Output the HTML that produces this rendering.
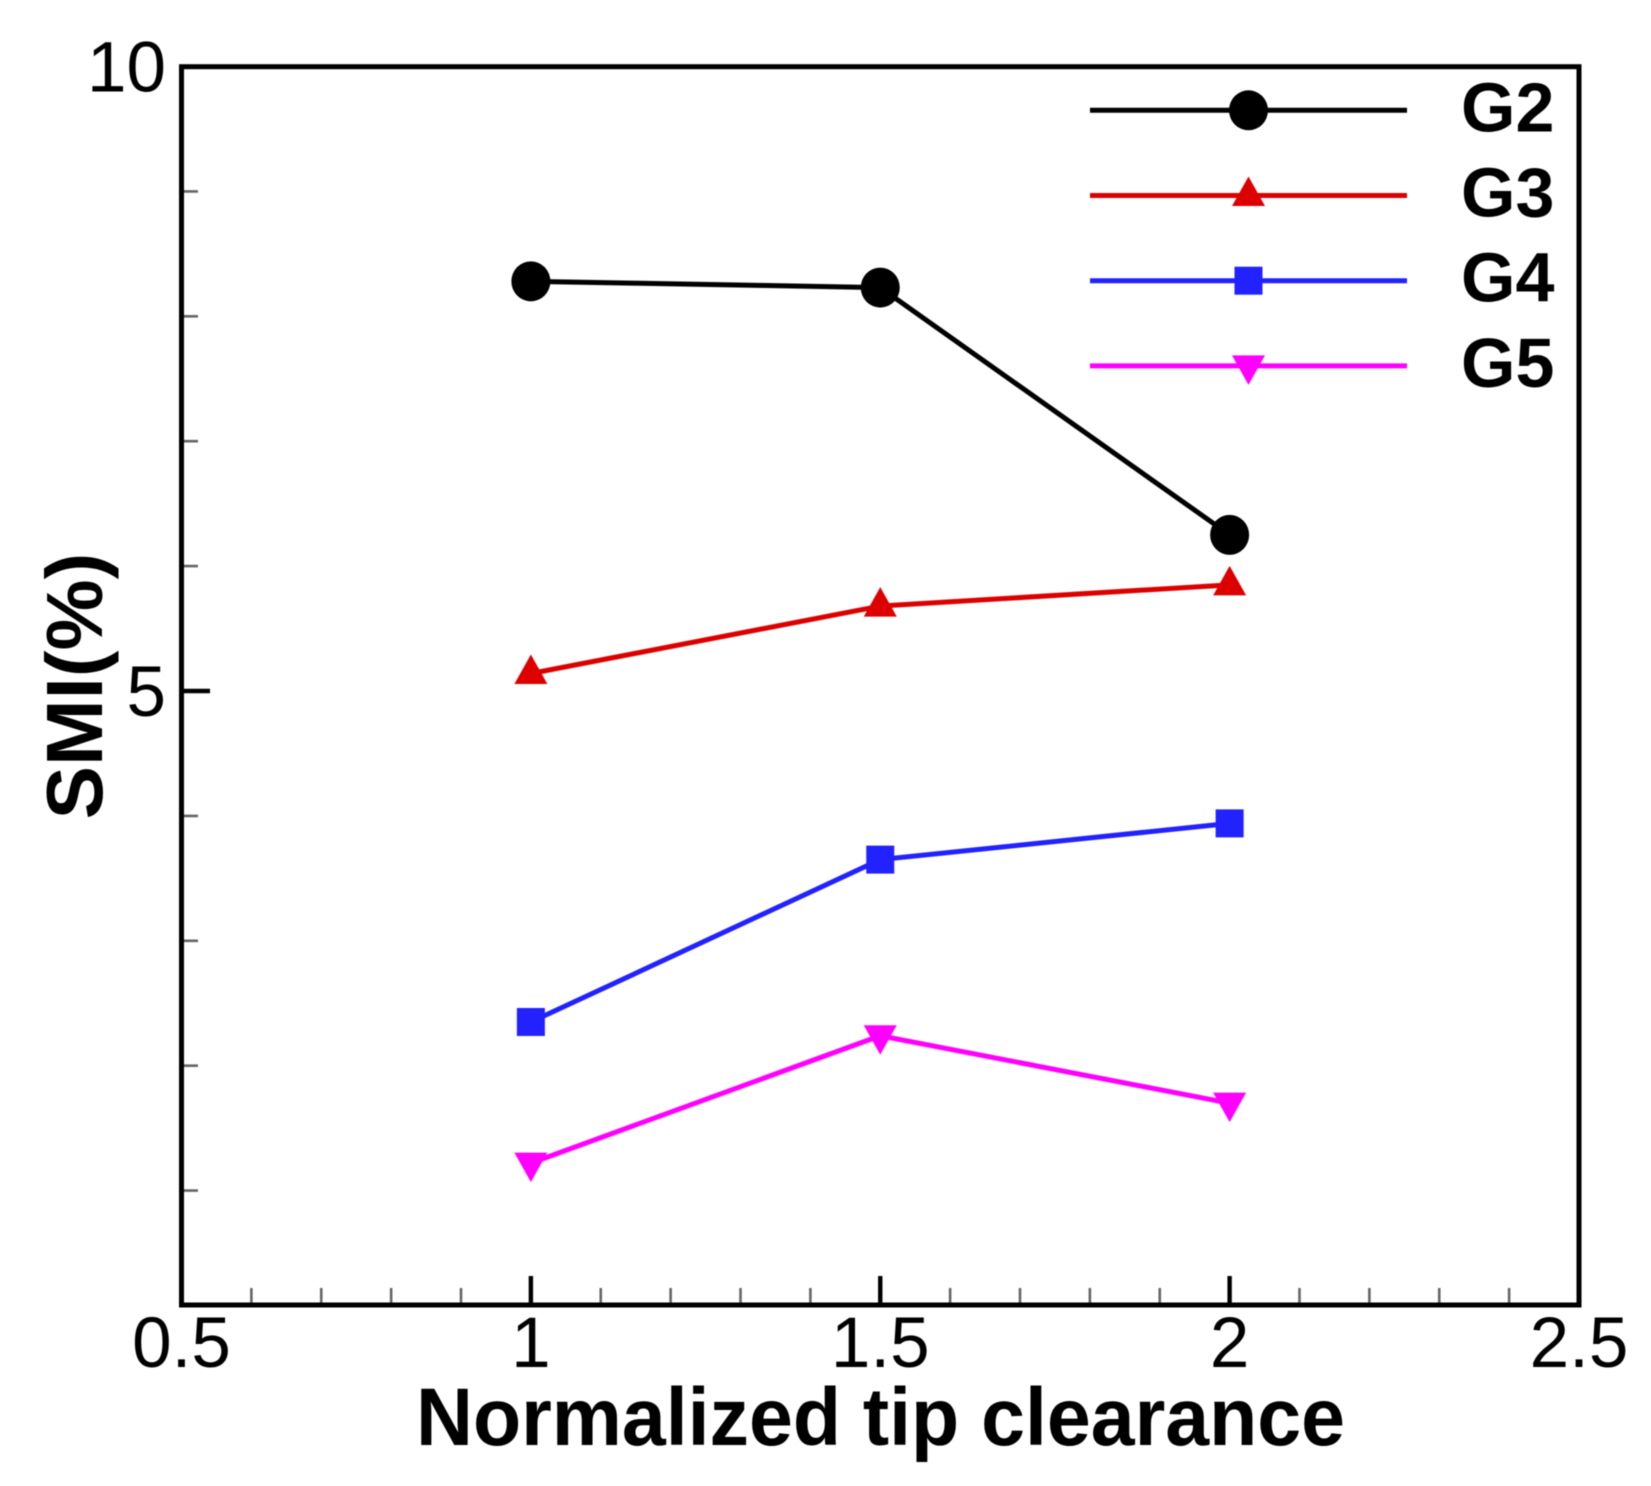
<!DOCTYPE html>
<html lang="en">
<head>
<meta charset="utf-8">
<title>SMI vs normalized tip clearance</title>
<style>
html,body{margin:0;padding:0;background:#fff;}
body{width:1651px;height:1486px;overflow:hidden;}
svg{display:block;filter:blur(0.55px);}
text{font-family:"Liberation Sans",Arial,sans-serif;fill:#000;}
</style>
</head>
<body>
<svg id="chart" xmlns="http://www.w3.org/2000/svg" width="1651" height="1486" viewBox="0 0 1651 1486">
  <rect x="0" y="0" width="1651" height="1486" fill="#ffffff"/>
  <g id="ticks"></g>
  <rect x="181.5" y="66.7" width="1397.5" height="1238.3" fill="none" stroke="#000" stroke-width="5" stroke-linejoin="miter"/>
  <g id="tick-labels"></g>
  <g id="series"></g>
  <g id="legend"></g>
  <text x="416" y="1445" font-size="82" font-weight="bold" textLength="929" lengthAdjust="spacingAndGlyphs">Normalized tip clearance</text>
  <text transform="translate(102,686) rotate(-90)" font-size="80" font-weight="bold" text-anchor="middle">SMI(%)</text>
</svg>
<script>
var categories = [1, 1.5, 2];
var seriesNames = ['G2', 'G3', 'G4', 'G5'];
var g2Values = [8.28, 8.23, 6.25];
var g3Values = [5.14, 5.68, 5.85];
var g4Values = [2.35, 3.65, 3.94];
var g5Values = [1.22, 2.24, 1.70];
var xMajorTicks = [1, 1.5, 2];
var xMinorTicks = [0.6, 0.7, 0.8, 0.9, 1.1, 1.2, 1.3, 1.4, 1.6, 1.7, 1.8, 1.9, 2.1, 2.2, 2.3, 2.4];
var yMajorTicks = [5];
var yMinorTicks = [1, 2, 3, 4, 6, 7, 8, 9];
var xTickLabels = ['0.5', '1', '1.5', '2', '2.5'];
var yTickLabels = ['5', '10'];

var NS = 'http://www.w3.org/2000/svg';
var seriesColors = ['#000000', '#dd0000', '#2222ff', '#ff00ff'];
var seriesShapes = ['circle', 'up', 'square', 'down'];
var seriesValues = [g2Values, g3Values, g4Values, g5Values];

function xScale(v) { return 181.5 + (v - 0.5) * 698.75; }
function yScale(v) { return 691 - (v - 5) * 124.9; }

function make(tag, parent) {
  var el = document.createElementNS(NS, tag);
  parent.appendChild(el);
  return el;
}
function setAll(el, props) {
  for (var k in props) el.setAttribute(k, props[k]);
}

function drawMarker(parent, shape, cx, cy, color, name) {
  var m;
  if (shape === 'circle') {
    m = make('ellipse', parent);
    setAll(m, {cx: cx, cy: cy, rx: 19.5, ry: 20, fill: color});
  } else if (shape === 'square') {
    m = make('rect', parent);
    setAll(m, {x: cx - 14, y: cy - 14, width: 28, height: 28, fill: color});
  } else if (shape === 'up') {
    m = make('polygon', parent);
    setAll(m, {points: (cx) + ',' + (cy - 19) + ' ' + (cx + 16.5) + ',' + (cy + 10.5) + ' ' + (cx - 16.5) + ',' + (cy + 10.5), fill: color});
  } else {
    m = make('polygon', parent);
    setAll(m, {points: (cx) + ',' + (cy + 19) + ' ' + (cx + 16.5) + ',' + (cy - 10.5) + ' ' + (cx - 16.5) + ',' + (cy - 10.5), fill: color});
  }
  
  
}

var ticksG = document.getElementById('ticks');
xMinorTicks.forEach(function (v) {
  var t = make('line', ticksG);
  setAll(t, {x1: xScale(v), x2: xScale(v), y1: 1305, y2: 1288, stroke: '#666', 'stroke-width': 2.6});
  
  
});
xMajorTicks.forEach(function (v) {
  var t = make('line', ticksG);
  setAll(t, {x1: xScale(v), x2: xScale(v), y1: 1305, y2: 1276, stroke: '#000', 'stroke-width': 4.4});
  
  
});
yMinorTicks.forEach(function (v) {
  var t = make('line', ticksG);
  setAll(t, {x1: 181.5, x2: 198, y1: yScale(v), y2: yScale(v), stroke: '#666', 'stroke-width': 2.6});
  
  
});
yMajorTicks.forEach(function (v) {
  var t = make('line', ticksG);
  setAll(t, {x1: 181.5, x2: 210, y1: yScale(v), y2: yScale(v), stroke: '#000', 'stroke-width': 4.4});
  
  
});

var labelsG = document.getElementById('tick-labels');
xTickLabels.forEach(function (s) {
  var t = make('text', labelsG);
  setAll(t, {x: xScale(parseFloat(s)), y: 1367, 'font-size': 71, 'text-anchor': 'middle'});
  
  
  t.textContent = s;
});
yTickLabels.forEach(function (s) {
  var t = make('text', labelsG);
  setAll(t, {x: 166, y: yScale(parseFloat(s)) + 25, 'font-size': 71, 'text-anchor': 'end'});
  
  
  t.textContent = s;
});

var seriesG = document.getElementById('series');
seriesValues.forEach(function (vals, i) {
  var g = make('g', seriesG);
  
  
  var pts = vals.map(function (v, j) { return xScale(categories[j]) + ',' + yScale(v); }).join(' ');
  var line = make('polyline', g);
  setAll(line, {points: pts, fill: 'none', stroke: seriesColors[i], 'stroke-width': 5});
  
  
  vals.forEach(function (v, j) {
    drawMarker(g, seriesShapes[i], xScale(categories[j]), yScale(v), seriesColors[i], 'series-point');
  });
});

var legendG = document.getElementById('legend');
seriesNames.forEach(function (name, i) {
  var rowY = 110.3 + i * 85.2;
  var g = make('g', legendG);
  
  
  var l = make('line', g);
  setAll(l, {x1: 1090, x2: 1407, y1: rowY, y2: rowY, stroke: seriesColors[i], 'stroke-width': 5});
  
  
  drawMarker(g, seriesShapes[i], 1248.5, rowY, seriesColors[i], 'legend-marker');
  var t = make('text', g);
  setAll(t, {x: 1461, y: rowY + 21, 'font-size': 70, 'font-weight': 'bold'});
  
  
  t.textContent = name;
});
</script>
</body>
</html>
